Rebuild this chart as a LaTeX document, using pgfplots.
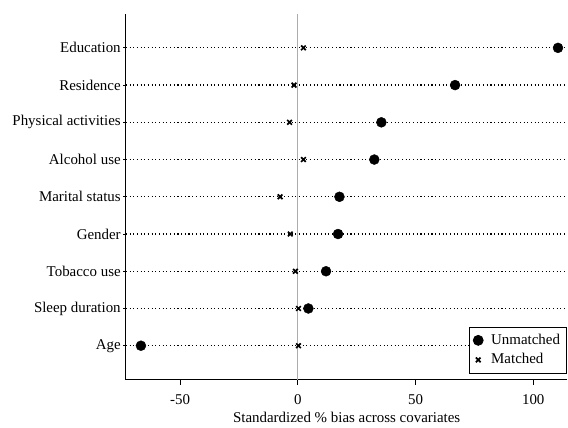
\documentclass[border=0pt]{standalone}
\usepackage{fontspec}
\setmainfont{Liberation Serif}
\usepackage{pgfplots}
\pgfplotsset{compat=1.18}
\begin{document}
\fontsize{15}{18}\selectfont
\begin{tikzpicture}
\begin{axis}[
  scale only axis,
  width=442bp, height=366bp,
  xmin=-73, xmax=114.5,
  ymin=0.09, ymax=9.91,
  axis x line*=bottom, axis y line*=left,
  axis line style={black, line width=0.9pt},
  xtick={-50,0,50,100},
  ytick={1,...,9},
  yticklabels={Age,Sleep duration,Tobacco use,Gender,Marital status,Alcohol use,Physical activities,Residence,Education},
  tick style={black, line width=0.8pt},
  major tick length=5bp,
  ytick style={draw=none},
  tick align=outside,
  ymajorgrids,
  grid style={black, line width=1.2pt, dash pattern=on 1.1pt off 2.6pt},
  xlabel={Standardized \% bias across covariates},
  xlabel style={yshift=3bp},
  xticklabel style={yshift=-5bp},
  yticklabel style={xshift=5bp},
  /pgf/number format/assume math mode=true,
  ticklabel style={font=\fontsize{15}{18}\selectfont},
  label style={font=\fontsize{15}{18}\selectfont},
  legend style={at={(rel axis cs:1,0)}, anchor=south east, xshift=-1bp, yshift=6bp,
    draw=black, line width=0.8pt, font=\fontsize{15}{18}\selectfont, row sep=3bp,
    column sep=6bp, inner xsep=4bp, inner ysep=5bp,
    cells={anchor=west}},
  legend cell align=left,
  clip=false,
]
\addplot[color=gray!65, line width=1.4pt, forget plot] coordinates {(0,0.09) (0,9.91)};
\addplot[only marks, mark=*, mark size=5bp, black] coordinates {
(-66.6,1) (4.5,2) (12,3) (17.1,4) (17.7,5) (32.5,6) (35.5,7) (66.8,8) (110.5,9)};
\addlegendentry{Unmatched}
\addplot[only marks, mark=x, mark size=3.3bp, black, line width=1.7pt] coordinates {
(0.3,1) (0.3,2) (-1,3) (-3.2,4) (-7.5,5) (2.4,6) (-3.5,7) (-1.6,8) (2.4,9)};
\addlegendentry{Matched}
\pgfplotsinvokeforeach{1,...,9}{\draw[black, line width=0.8pt] (axis cs:-73,#1) -- (axis cs:-74.1,#1);}
\end{axis}
\path[use as bounding box] (-126bp,-41bp) rectangle (442bp,380bp);
\end{tikzpicture}
\end{document}
